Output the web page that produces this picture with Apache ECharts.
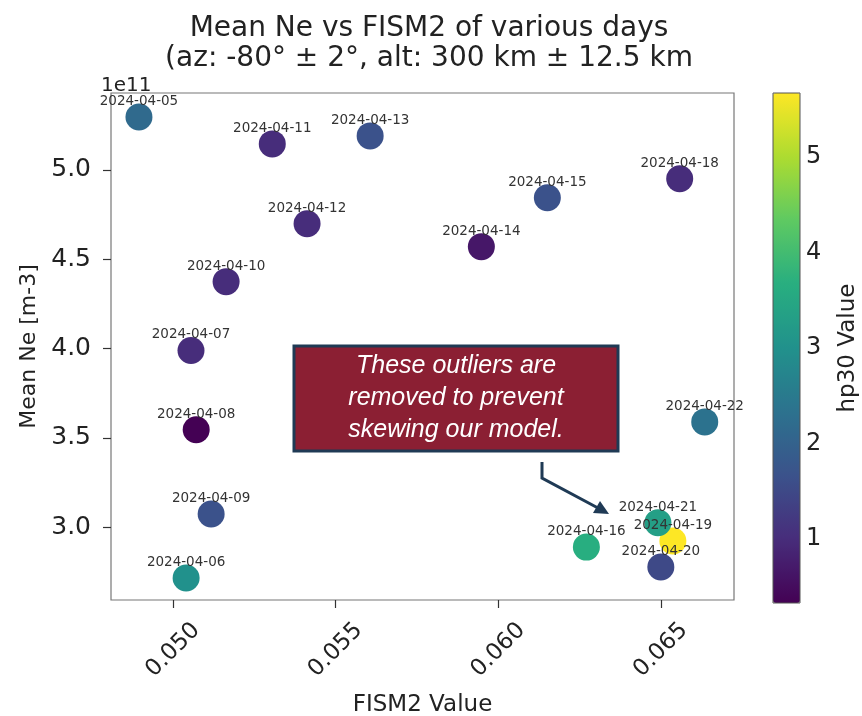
<!DOCTYPE html>
<html>
<head>
<meta charset="utf-8">
<script src="https://cdn.jsdelivr.net/npm/echarts@6/dist/echarts.min.js"></script>
<style>html,body{margin:0;padding:0;background:#fff}#c{width:862px;height:716px}</style>
</head>
<body>
<div id="c"></div>
<script>
// ---- data ----
const dates = ['2024-04-05','2024-04-06','2024-04-07','2024-04-08','2024-04-09','2024-04-10','2024-04-11','2024-04-12','2024-04-13','2024-04-14','2024-04-15','2024-04-16','2024-04-18','2024-04-19','2024-04-20','2024-04-21','2024-04-22'];
const fism2 = [0.04895,0.05040,0.05055,0.05071,0.05117,0.05163,0.05305,0.05412,0.05606,0.05948,0.06151,0.06271,0.06558,0.06537,0.06500,0.06491,0.06635];
const meanNe = [5.296,2.715,3.989,3.545,3.073,4.374,5.145,4.698,5.190,4.570,4.844,2.888,4.950,2.922,2.777,3.025,3.589]; // x 1e11 m-3
const hp30 = [2.167,3.0,1.0,0.333,1.667,1.0,1.0,1.0,1.667,0.667,1.667,3.667,1.0,5.667,1.5,3.333,2.333];
const xTicks = [0.050,0.055,0.060,0.065];
const yTicks = [3.0,3.5,4.0,4.5,5.0];
const cTicks = [1,2,3,4,5];

const viridis = ['#440154','#472d7b','#3b528b','#2c728e','#21918c','#28ae80','#5ec962','#addc30','#fde725'];
const FONT = 'DejaVu Sans';

const pts = dates.map((d,i)=>[fism2[i], meanNe[i], hp30[i], d]);

const chart = echarts.init(document.getElementById('c'), null, {renderer:'canvas'});
chart.setOption({
  backgroundColor:'#fff',
  animation:false,
  title:[
    {text:'Mean Ne vs FISM2 of various days\n(az: -80° ± 2°, alt: 300 km ± 12.5 km', left:424, top:9, textAlign:'center',
     textStyle:{fontFamily:FONT,fontSize:28,fontWeight:'normal',color:'#222',lineHeight:30}},
    {text:'1e11', left:96, top:71, textStyle:{fontFamily:FONT,fontSize:20,fontWeight:'normal',color:'#222'}}
  ],
  grid:[
    {left:111, top:93, width:623, height:507, show:true, borderColor:'#777', borderWidth:1.2, backgroundColor:'transparent',
     containLabel:false, outerBoundsMode:'none'},
    {left:773, top:93, width:27, height:510, show:true, borderColor:'#555', borderWidth:1, backgroundColor:'transparent', z:10,
     containLabel:false, outerBoundsMode:'none'}
  ],
  xAxis:[
    {type:'value', gridIndex:0, min:0.04809, max:0.06725, splitNumber:4,
     name:'FISM2 Value', nameLocation:'middle', nameGap:94,
     nameTextStyle:{fontFamily:FONT,fontSize:23,color:'#222'},
     axisLine:{show:false}, splitLine:{show:false},
     axisTick:{show:true, length:8, lineStyle:{color:'#333',width:1.2}, customValues:xTicks},
     axisLabel:{fontFamily:FONT,fontSize:23,color:'#222',rotate:45,align:'center',verticalAlign:'middle',margin:50,
       customValues:xTicks, formatter:v=>v.toFixed(3)}},
    {type:'value', gridIndex:1, min:0, max:1, show:false}
  ],
  yAxis:[
    {type:'value', gridIndex:0, min:2.592, max:5.43,
     name:'Mean Ne [m-3]', nameLocation:'middle', nameGap:70, nameRotate:90,
     nameTextStyle:{fontFamily:FONT,fontSize:22,color:'#222'},
     axisLine:{show:false}, splitLine:{show:false},
     axisTick:{show:true, length:8, lineStyle:{color:'#333',width:1.2}, customValues:yTicks},
     axisLabel:{fontFamily:FONT,fontSize:25,color:'#222',margin:20,customValues:yTicks, formatter:v=>v.toFixed(1)}},
    {type:'value', gridIndex:1, position:'right', min:0.333, max:5.667,
     name:'hp30 Value', nameLocation:'middle', nameGap:37, nameRotate:90,
     nameTextStyle:{fontFamily:FONT,fontSize:23,color:'#222'},
     axisLine:{show:false}, splitLine:{show:false},
     axisTick:{show:true, length:6, lineStyle:{color:'#333',width:1}, customValues:cTicks},
     axisLabel:{fontFamily:FONT,fontSize:24,color:'#222',margin:6,customValues:cTicks, formatter:v=>String(v)}}
  ],
  visualMap:{
    type:'continuous', min:0.333, max:5.667, dimension:2, seriesIndex:0,
    calculable:false, show:true, orient:'vertical', left:773, top:93, itemWidth:27, itemHeight:510,
    padding:0, text:null, showLabel:false, hoverLink:false,
    inRange:{color:viridis}
  },
  series:[
    {type:'scatter', xAxisIndex:0, yAxisIndex:0, data:pts, symbolSize:27,
     itemStyle:{opacity:1},
     label:{show:true, position:'top', distance:-5, formatter:p=>p.value[3],
       fontFamily:FONT, fontSize:13.5, color:'#333'},
     labelLayout:{hideOverlap:false}},
    {type:'scatter', xAxisIndex:1, yAxisIndex:1, data:[]}
  ],
  graphic:[
    {type:'rect', shape:{x:294,y:346,width:324,height:105}, style:{fill:'#8b1f33',stroke:'#1f3a55',lineWidth:3}, z:100},
    {type:'text', x:456, y:398, style:{text:'These outliers are\nremoved to prevent\nskewing our model.', fill:'#fff',
      font:'italic 25px "Liberation Sans"', textAlign:'center', textVerticalAlign:'middle', lineHeight:32}, z:101},
    {type:'polyline', shape:{points:[[542,462],[542,478],[598,508]]}, style:{stroke:'#1f3a55',lineWidth:3,fill:null}, z:100},
    {type:'polygon', shape:{points:[[609,514],[593,513],[600,501]]}, style:{fill:'#1f3a55'}, z:100}
  ]
});
</script>
</body>
</html>
